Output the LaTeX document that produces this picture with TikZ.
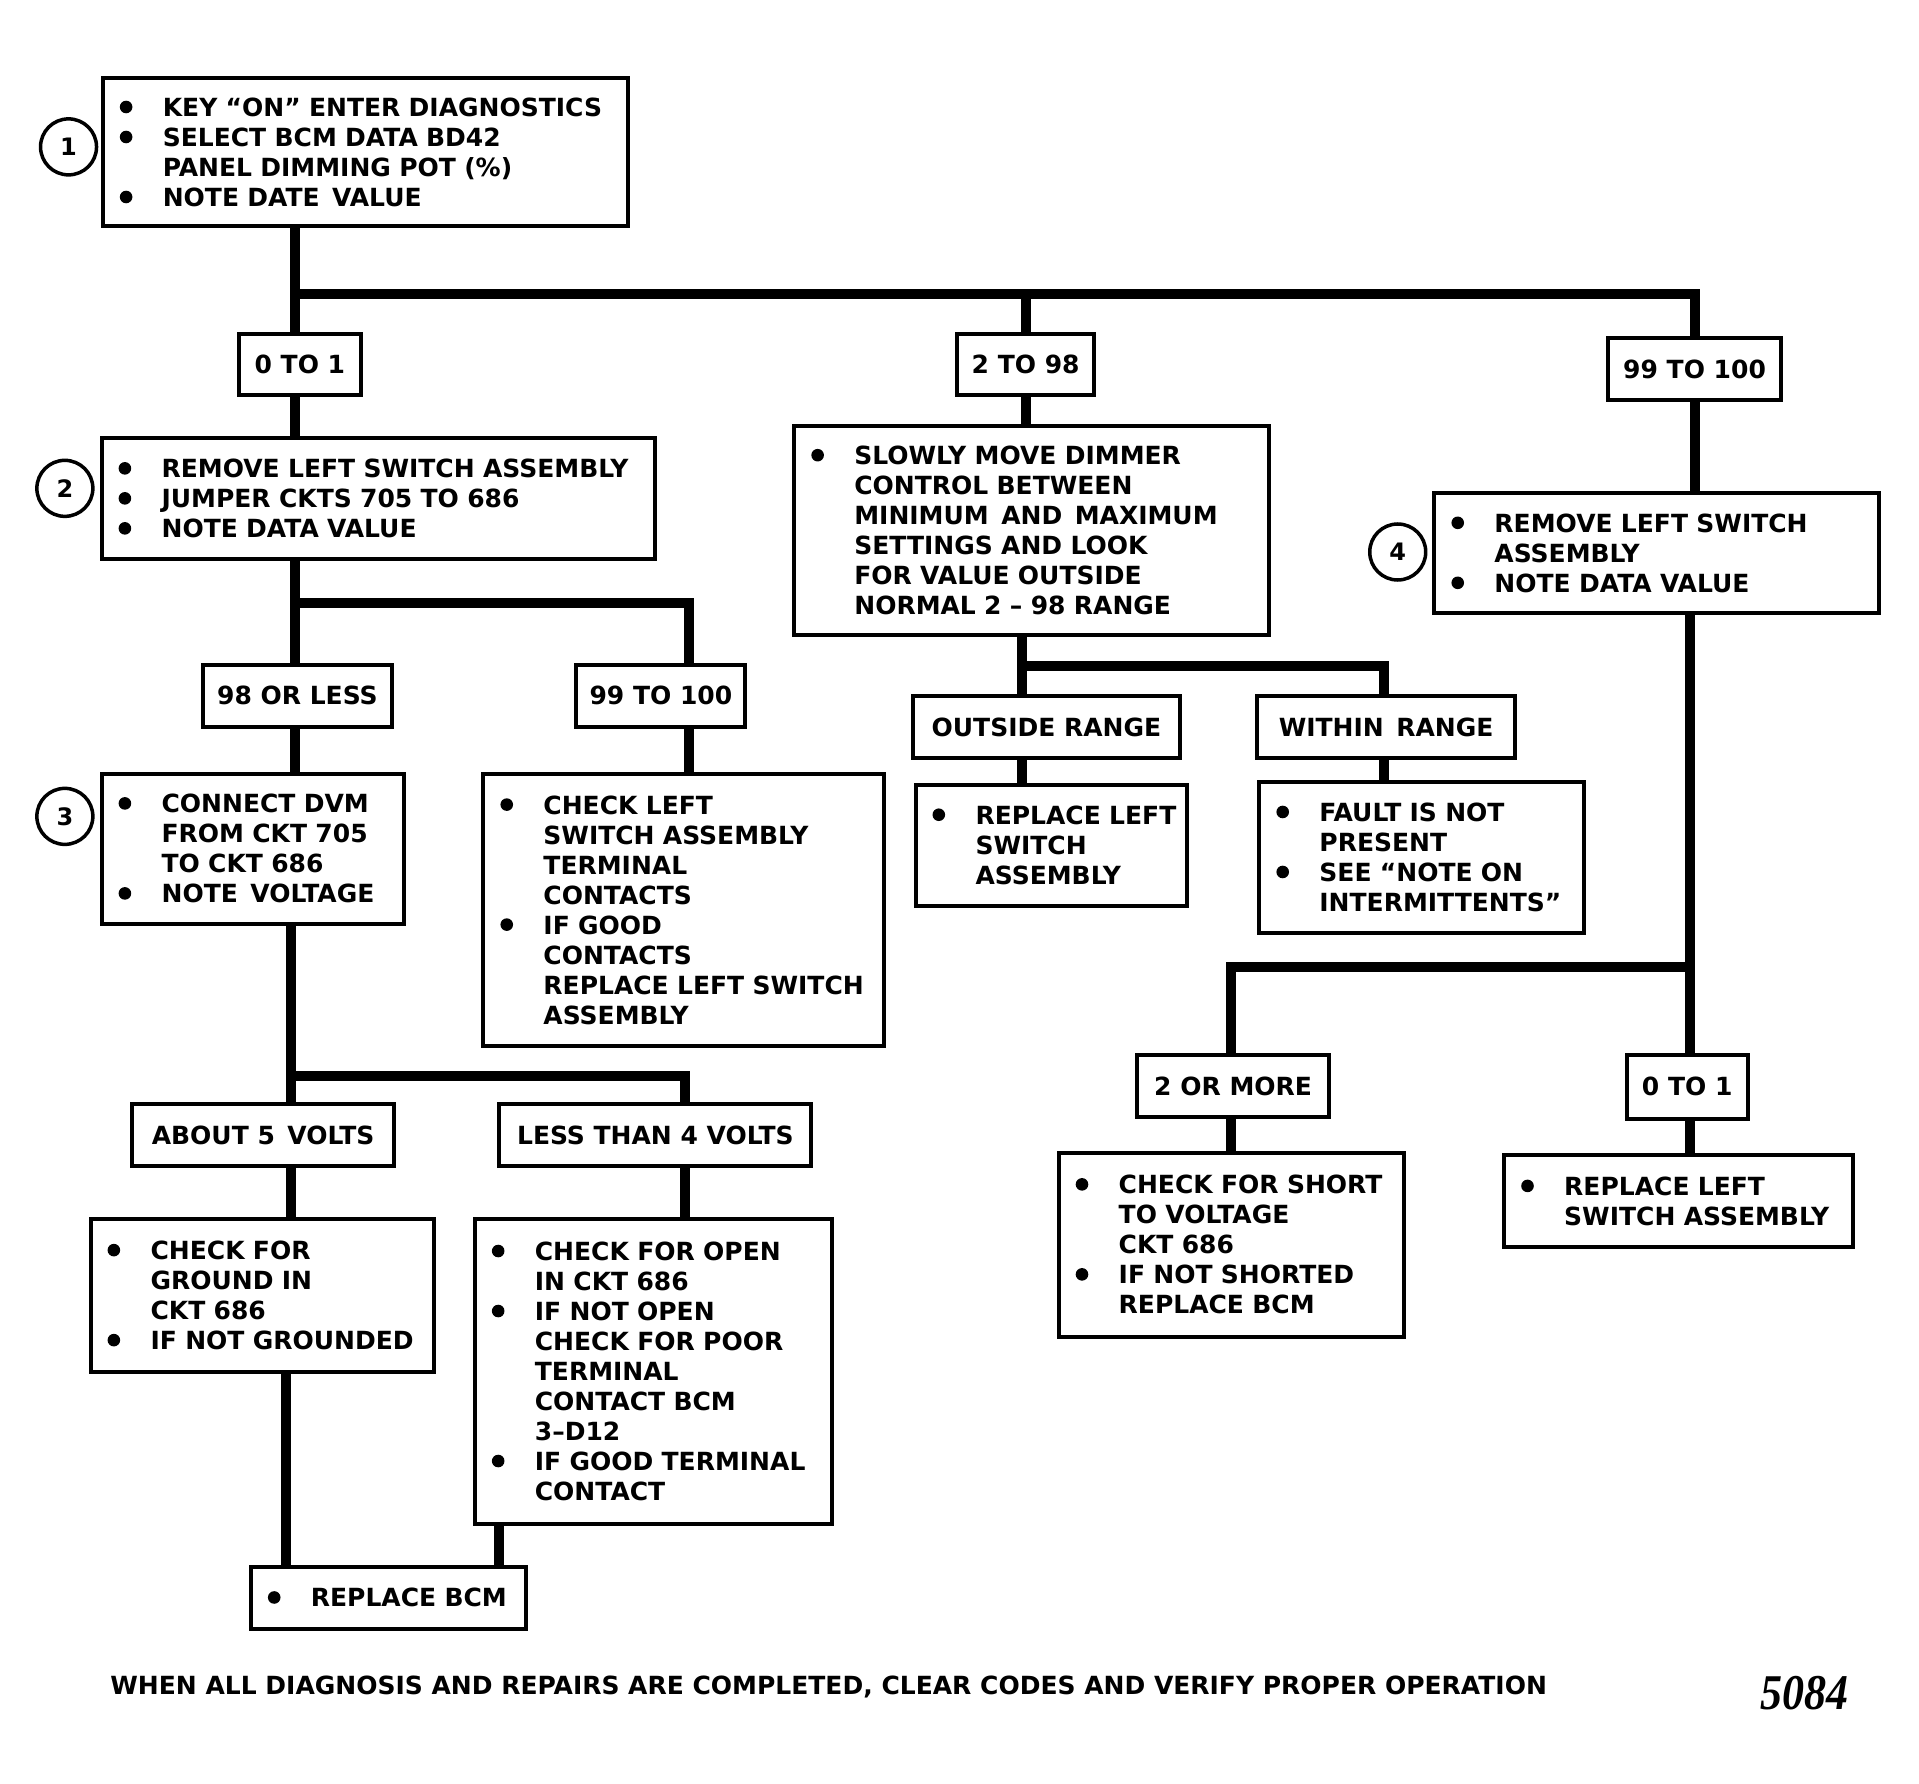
\documentclass[tikz,border=0pt]{standalone}
\usepackage{fontspec}
\usepackage{graphicx}
\setmainfont{DejaVu Sans}
\newfontfamily\tms{Liberation Serif}
\newcommand\bul{\tikz[baseline=0pt]\fill (6.3pt,9.5pt) circle (6.3pt);}
\newcommand\B{\makebox[56pt][l]{\hspace*{13pt}\bul}}
\newcommand\N{\makebox[56pt][l]{}}
\newcommand\Bx[6]{%
  \pgfmathsetmacro\bw{(#4-#2)*1.2239}%
  \pgfmathsetmacro\bh{(#5-#3)*1.2239}%
  \pgfmathsetmacro\tw{(#4-#2)*1.2239-8}%
  \node[box, minimum width=\bw pt, minimum height=\bh pt, text width=\tw pt] (#1) at ({(#2+#4)/2},{(#3+#5)/2}) {#6};}
\newcommand\Lb[6]{%
  \pgfmathsetmacro\bw{(#4-#2)*1.2239}%
  \pgfmathsetmacro\bh{(#5-#3)*1.2239}%
  \node[lab, minimum width=\bw pt, minimum height=\bh pt] (#1) at ({(#2+#4)/2},{(#3+#5)/2}) {#6};}
\begin{document}
\begin{tikzpicture}[x=1.2239pt, y=-1.2239pt,
  font=\bfseries\fontsize{25}{30}\selectfont,
  box/.style={draw, line width=4pt, inner xsep=4pt, inner ysep=0pt, align=left},
  lab/.style={draw, line width=4pt, inner sep=0pt, text height=18.2pt, text depth=0pt},
  conn/.style={line width=10pt, line join=miter},
  num/.style={draw, circle, line width=3.5pt, minimum size=56pt, inner sep=0pt, font=\bfseries\fontsize{24}{24}\selectfont}]
\useasboundingbox (0,0) rectangle (1567.9,1456.8);

% boxes
\Bx{b1}{84}{64}{513}{185}{\B KEY “ON” ENTER DIAGNOSTICS\\ \B SELECT BCM DATA BD42\\ \N PANEL DIMMING POT (\%)\\ \B NOTE DATE\enspace VALUE}
\Bx{b2}{83}{358}{535}{457}{\B REMOVE LEFT SWITCH ASSEMBLY\\ \B JUMPER CKTS 705 TO 686\\ \B NOTE DATA VALUE}
\Bx{bm}{649}{348}{1037}{519}{\B SLOWLY MOVE DIMMER\\ \N CONTROL BETWEEN\\ \N MINIMUM\enspace AND\enspace MAXIMUM\\ \N SETTINGS AND LOOK\\ \N FOR VALUE OUTSIDE\\ \N NORMAL 2 – 98 RANGE}
\Bx{b4}{1172}{403}{1535}{501}{\B REMOVE LEFT SWITCH\\ \N ASSEMBLY\\ \B NOTE DATA VALUE}
\Bx{b3}{83}{632}{330}{755}{\B CONNECT DVM\\ \N FROM CKT 705\\ \N TO CKT 686\\ \B NOTE\enspace VOLTAGE}
\Bx{bcl}{395}{632}{722}{855}{\B CHECK LEFT\\ \N SWITCH ASSEMBLY\\ \N TERMINAL\\ \N CONTACTS\\ \B IF GOOD\\ \N CONTACTS\\ \N REPLACE LEFT SWITCH\\ \N ASSEMBLY}
\Bx{bgr}{74}{996}{355}{1121}{\B CHECK FOR\\ \N GROUND IN\\ \N CKT 686\\ \B IF NOT GROUNDED}
\Bx{bop}{388}{996}{680}{1245}{\B CHECK FOR OPEN\\ \N IN CKT 686\\ \B IF NOT OPEN\\ \N CHECK FOR POOR\\ \N TERMINAL\\ \N CONTACT BCM\\ \N 3–D12\\ \B IF GOOD TERMINAL\\ \N CONTACT}
\Bx{brb}{205}{1280}{430}{1331}{\B REPLACE BCM}
\Bx{brl}{748}{641}{970}{740}{\B REPLACE LEFT\\ \N SWITCH\\ \N ASSEMBLY}
\Bx{bft}{1029}{639}{1294}{762}{\B FAULT IS NOT\\ \N PRESENT\\ \B SEE “NOTE ON\\ \N INTERMITTENTS”}
\Bx{bsh}{865}{942}{1147}{1092}{\B CHECK FOR SHORT\\ \N TO VOLTAGE\\ \N CKT 686\\ \B IF NOT SHORTED\\ \N REPLACE BCM}
\Bx{brr}{1229}{944}{1514}{1019}{\B REPLACE LEFT\\ \N SWITCH ASSEMBLY}

% labels
\Lb{l01}{195}{273}{295}{323}{0 TO 1}
\Lb{l298}{782}{273}{894}{323}{2 TO 98}
\Lb{l99}{1314}{276}{1455}{327}{99 TO 100}
\Lb{l98}{166}{543}{320}{594}{98 OR LESS}
\Lb{l99b}{471}{543}{609}{594}{99 TO 100}
\Lb{la5}{108}{902}{322}{953}{ABOUT 5\enspace VOLTS}
\Lb{ll4}{408}{902}{663}{953}{LESS THAN 4 VOLTS}
\Lb{lout}{746}{569}{964}{619}{OUTSIDE RANGE}
\Lb{lwin}{1027}{569}{1238}{619}{WITHIN\enspace RANGE}
\Lb{l2m}{929}{862}{1086}{913}{2 OR MORE}
\Lb{l01b}{1329}{862}{1428}{914}{0 TO 1}

% step numbers
\node[num] (n1) at (56,120) {1};
\node[num] (n2) at (53,399) {2};
\node[num] (n3) at (53,667) {3};
\node[num] (n4) at (1142,451) {4};

% junction coordinates
\coordinate (j1) at (241,240);
\coordinate (j2) at (241,493);
\coordinate (j2r) at (563,493);
\coordinate (j3) at (238,879);
\coordinate (j3r) at (560,879);
\coordinate (j4) at (835,544);
\coordinate (j4r) at (1131,544);
\coordinate (j5) at (1381,790);
\coordinate (j5l) at (1006,790);
\coordinate (k2) at (234,1200);
\coordinate (k3) at (408,1260);

% connectors
\draw[conn] (b1.south -| j1) -- (l01.north -| j1);
\draw[conn] (j1) -| (l99.north);
\draw[conn] (l298.north |- j1) -- (l298.north);
\draw[conn] (l01.south -| j1) -- (b2.north -| j1);
\draw[conn] (l298.south) -- (l298.south |- bm.north);
\draw[conn] (l99.south) -- (l99.south |- b4.north);
\draw[conn] (b2.south -| j2) -- (l98.north -| j2);
\draw[conn] (j2) -- (j2r) -- (l99b.north -| j2r);
\draw[conn] (l98.south -| j2) -- (b3.north -| j2);
\draw[conn] (l99b.south -| j2r) -- (bcl.north -| j2r);
\draw[conn] (b3.south -| j3) -- (la5.north -| j3);
\draw[conn] (j3) -- (j3r) -- (ll4.north -| j3r);
\draw[conn] (la5.south -| j3) -- (bgr.north -| j3);
\draw[conn] (ll4.south -| j3r) -- (bop.north -| j3r);
\draw[conn] (bgr.south -| k2) -- (brb.north -| k2);
\draw[conn] (bop.south -| k3) -- (brb.north -| k3);
\draw[conn] (bm.south -| j4) -- (lout.north -| j4);
\draw[conn] (j4) -- (j4r) -- (lwin.north -| j4r);
\draw[conn] (lout.south -| j4) -- (brl.north -| j4);
\draw[conn] (lwin.south -| j4r) -- (bft.north -| j4r);
\draw[conn] (b4.south -| j5) -- (l01b.north -| j5);
\draw[conn] (j5) -- (j5l) -- (l2m.north -| j5l);
\draw[conn] (l2m.south -| j5l) -- (bsh.north -| j5l);
\draw[conn] (l01b.south -| j5) -- (brr.north -| j5);

% footer
\node[anchor=west, inner sep=0pt] (foot) at (90,1378) {WHEN ALL DIAGNOSIS AND REPAIRS ARE COMPLETED, CLEAR CODES AND VERIFY PROPER OPERATION};
\node[inner sep=0pt] (fig) at (1474,1383) {\tms\itshape\fontsize{50}{50}\selectfont\scalebox{0.88}[1]{5084}};
\end{tikzpicture}
\end{document}
